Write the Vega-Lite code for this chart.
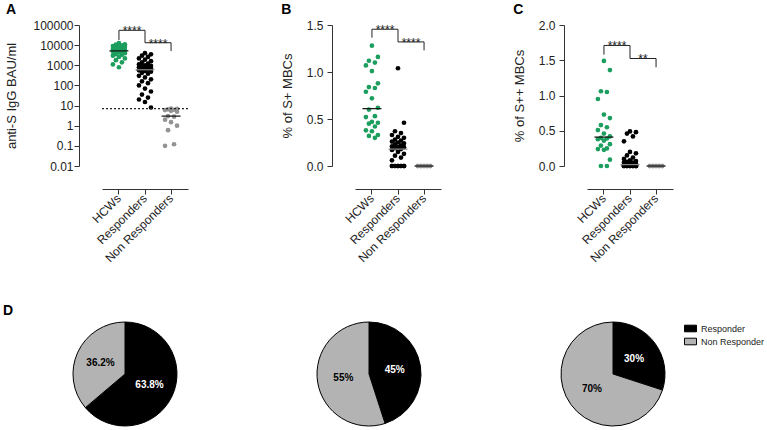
{
  "$schema": "https://vega.github.io/schema/vega-lite/v6.json",
  "padding": {"left": 3, "top": 3, "right": 0, "bottom": 0},
  "config": {
    "font": "Liberation Sans",
    "view": {"stroke": null},
    "axis": {"grid": false, "domainColor": "#333", "tickColor": "#333", "labelColor": "#222", "titleColor": "#222", "labelFontSize": 12, "titleFontSize": 13, "titleFontWeight": "normal", "tickSize": 5, "labelFlush": false, "labelOverlap": false},
    "title": {"anchor": "start", "frame": "bounds", "fontSize": 14, "fontWeight": "bold", "offset": 2, "color": "#000"}
  },
  "datasets": {
    "a": [
      {"g": "HCWs", "v": 12500}, {"g": "HCWs", "v": 11000}, {"g": "HCWs", "v": 10500}, {"g": "HCWs", "v": 9800}, {"g": "HCWs", "v": 9000}, {"g": "HCWs", "v": 8500}, {"g": "HCWs", "v": 8000}, {"g": "HCWs", "v": 7600}, {"g": "HCWs", "v": 7000}, {"g": "HCWs", "v": 6500}, {"g": "HCWs", "v": 6000}, {"g": "HCWs", "v": 5600}, {"g": "HCWs", "v": 5400}, {"g": "HCWs", "v": 5000}, {"g": "HCWs", "v": 4700}, {"g": "HCWs", "v": 4400}, {"g": "HCWs", "v": 4000}, {"g": "HCWs", "v": 3600}, {"g": "HCWs", "v": 3300}, {"g": "HCWs", "v": 3000}, {"g": "HCWs", "v": 2600}, {"g": "HCWs", "v": 2200}, {"g": "HCWs", "v": 1800}, {"g": "HCWs", "v": 1400}, {"g": "HCWs", "v": 1100}, {"g": "HCWs", "v": 800},
      {"g": "Responders", "v": 4000}, {"g": "Responders", "v": 3500}, {"g": "Responders", "v": 3000}, {"g": "Responders", "v": 2600}, {"g": "Responders", "v": 2200}, {"g": "Responders", "v": 1900}, {"g": "Responders", "v": 1600}, {"g": "Responders", "v": 1400}, {"g": "Responders", "v": 1200}, {"g": "Responders", "v": 1100}, {"g": "Responders", "v": 1000}, {"g": "Responders", "v": 950}, {"g": "Responders", "v": 900}, {"g": "Responders", "v": 850}, {"g": "Responders", "v": 800}, {"g": "Responders", "v": 750}, {"g": "Responders", "v": 700}, {"g": "Responders", "v": 650}, {"g": "Responders", "v": 600}, {"g": "Responders", "v": 560}, {"g": "Responders", "v": 520}, {"g": "Responders", "v": 480}, {"g": "Responders", "v": 420}, {"g": "Responders", "v": 380}, {"g": "Responders", "v": 300}, {"g": "Responders", "v": 250}, {"g": "Responders", "v": 200}, {"g": "Responders", "v": 160}, {"g": "Responders", "v": 130}, {"g": "Responders", "v": 100}, {"g": "Responders", "v": 70}, {"g": "Responders", "v": 50}, {"g": "Responders", "v": 35}, {"g": "Responders", "v": 25}, {"g": "Responders", "v": 20}, {"g": "Responders", "v": 15}, {"g": "Responders", "v": 8},
      {"g": "Non Responders", "v": 7}, {"g": "Non Responders", "v": 6.8}, {"g": "Non Responders", "v": 6.5}, {"g": "Non Responders", "v": 6.2}, {"g": "Non Responders", "v": 6}, {"g": "Non Responders", "v": 5.5}, {"g": "Non Responders", "v": 5}, {"g": "Non Responders", "v": 3}, {"g": "Non Responders", "v": 2.8}, {"g": "Non Responders", "v": 2}, {"g": "Non Responders", "v": 1.5}, {"g": "Non Responders", "v": 1}, {"g": "Non Responders", "v": 0.6}, {"g": "Non Responders", "v": 0.12}, {"g": "Non Responders", "v": 0.1}
    ],
    "b": [
      {"g": "HCWs", "v": 1.28}, {"g": "HCWs", "v": 1.16}, {"g": "HCWs", "v": 1.12}, {"g": "HCWs", "v": 1.10}, {"g": "HCWs", "v": 1.07}, {"g": "HCWs", "v": 1.01}, {"g": "HCWs", "v": 0.88}, {"g": "HCWs", "v": 0.84}, {"g": "HCWs", "v": 0.83}, {"g": "HCWs", "v": 0.79}, {"g": "HCWs", "v": 0.72}, {"g": "HCWs", "v": 0.62}, {"g": "HCWs", "v": 0.60}, {"g": "HCWs", "v": 0.53}, {"g": "HCWs", "v": 0.52}, {"g": "HCWs", "v": 0.47}, {"g": "HCWs", "v": 0.46}, {"g": "HCWs", "v": 0.45}, {"g": "HCWs", "v": 0.42}, {"g": "HCWs", "v": 0.38}, {"g": "HCWs", "v": 0.37}, {"g": "HCWs", "v": 0.33}, {"g": "HCWs", "v": 0.32}, {"g": "HCWs", "v": 0.30},
      {"g": "Responders", "v": 1.04}, {"g": "Responders", "v": 0.46}, {"g": "Responders", "v": 0.37}, {"g": "Responders", "v": 0.35}, {"g": "Responders", "v": 0.33}, {"g": "Responders", "v": 0.31}, {"g": "Responders", "v": 0.30}, {"g": "Responders", "v": 0.28}, {"g": "Responders", "v": 0.27}, {"g": "Responders", "v": 0.26}, {"g": "Responders", "v": 0.25}, {"g": "Responders", "v": 0.24}, {"g": "Responders", "v": 0.23}, {"g": "Responders", "v": 0.22}, {"g": "Responders", "v": 0.21}, {"g": "Responders", "v": 0.20}, {"g": "Responders", "v": 0.20}, {"g": "Responders", "v": 0.19}, {"g": "Responders", "v": 0.18}, {"g": "Responders", "v": 0.17}, {"g": "Responders", "v": 0.15}, {"g": "Responders", "v": 0.13}, {"g": "Responders", "v": 0.11}, {"g": "Responders", "v": 0.09}, {"g": "Responders", "v": 0.06},
      {"g": "Responders", "v": 0}, {"g": "Responders", "v": 0}, {"g": "Responders", "v": 0}, {"g": "Responders", "v": 0}, {"g": "Responders", "v": 0}, {"g": "Responders", "v": 0}, {"g": "Responders", "v": 0}, {"g": "Responders", "v": 0}, {"g": "Responders", "v": 0}, {"g": "Responders", "v": 0}, {"g": "Responders", "v": 0}, {"g": "Responders", "v": 0},
      {"g": "Non Responders", "v": 0}, {"g": "Non Responders", "v": 0}, {"g": "Non Responders", "v": 0}, {"g": "Non Responders", "v": 0}, {"g": "Non Responders", "v": 0}, {"g": "Non Responders", "v": 0}, {"g": "Non Responders", "v": 0}, {"g": "Non Responders", "v": 0}, {"g": "Non Responders", "v": 0}, {"g": "Non Responders", "v": 0}, {"g": "Non Responders", "v": 0}, {"g": "Non Responders", "v": 0}, {"g": "Non Responders", "v": 0}, {"g": "Non Responders", "v": 0}, {"g": "Non Responders", "v": 0}
    ],
    "c": [
      {"g": "HCWs", "v": 1.49}, {"g": "HCWs", "v": 1.36}, {"g": "HCWs", "v": 1.06}, {"g": "HCWs", "v": 1.05}, {"g": "HCWs", "v": 0.95}, {"g": "HCWs", "v": 0.73}, {"g": "HCWs", "v": 0.68}, {"g": "HCWs", "v": 0.58}, {"g": "HCWs", "v": 0.55}, {"g": "HCWs", "v": 0.51}, {"g": "HCWs", "v": 0.46}, {"g": "HCWs", "v": 0.42}, {"g": "HCWs", "v": 0.40}, {"g": "HCWs", "v": 0.39}, {"g": "HCWs", "v": 0.38}, {"g": "HCWs", "v": 0.36}, {"g": "HCWs", "v": 0.31}, {"g": "HCWs", "v": 0.29}, {"g": "HCWs", "v": 0.25}, {"g": "HCWs", "v": 0.24}, {"g": "HCWs", "v": 0.23}, {"g": "HCWs", "v": 0.09}, {"g": "HCWs", "v": 0}, {"g": "HCWs", "v": 0},
      {"g": "Responders", "v": 0.49}, {"g": "Responders", "v": 0.48}, {"g": "Responders", "v": 0.46}, {"g": "Responders", "v": 0.42}, {"g": "Responders", "v": 0.35}, {"g": "Responders", "v": 0.20}, {"g": "Responders", "v": 0.18}, {"g": "Responders", "v": 0.15}, {"g": "Responders", "v": 0.12}, {"g": "Responders", "v": 0.10}, {"g": "Responders", "v": 0.08}, {"g": "Responders", "v": 0.07}, {"g": "Responders", "v": 0.06}, {"g": "Responders", "v": 0.05}, {"g": "Responders", "v": 0.05}, {"g": "Responders", "v": 0.04}, {"g": "Responders", "v": 0.03}, {"g": "Responders", "v": 0.03}, {"g": "Responders", "v": 0.02}, {"g": "Responders", "v": 0.02}, {"g": "Responders", "v": 0.01},
      {"g": "Responders", "v": 0}, {"g": "Responders", "v": 0}, {"g": "Responders", "v": 0}, {"g": "Responders", "v": 0}, {"g": "Responders", "v": 0}, {"g": "Responders", "v": 0}, {"g": "Responders", "v": 0}, {"g": "Responders", "v": 0}, {"g": "Responders", "v": 0}, {"g": "Responders", "v": 0}, {"g": "Responders", "v": 0}, {"g": "Responders", "v": 0}, {"g": "Responders", "v": 0}, {"g": "Responders", "v": 0}, {"g": "Responders", "v": 0}, {"g": "Responders", "v": 0},
      {"g": "Non Responders", "v": 0}, {"g": "Non Responders", "v": 0}, {"g": "Non Responders", "v": 0}, {"g": "Non Responders", "v": 0}, {"g": "Non Responders", "v": 0}, {"g": "Non Responders", "v": 0}, {"g": "Non Responders", "v": 0}, {"g": "Non Responders", "v": 0}, {"g": "Non Responders", "v": 0}, {"g": "Non Responders", "v": 0}, {"g": "Non Responders", "v": 0}, {"g": "Non Responders", "v": 0}, {"g": "Non Responders", "v": 0}, {"g": "Non Responders", "v": 0}, {"g": "Non Responders", "v": 0}
    ],
    "a_br": [
      {"br": 1, "k": 1, "g": "HCWs", "v": 18000}, {"br": 1, "k": 2, "g": "HCWs", "v": 54600}, {"br": 1, "k": 3, "g": "Responders", "v": 54600}, {"br": 1, "k": 4, "g": "Responders", "v": 13200},
      {"br": 2, "k": 1, "g": "Responders", "v": 13200}, {"br": 2, "k": 2, "g": "Non Responders", "v": 13200}, {"br": 2, "k": 3, "g": "Non Responders", "v": 5100}
    ],
    "a_st": [{"g": "HCWs", "v": 54600, "t": "****"}, {"g": "Responders", "v": 13200, "t": "****"}],
    "b_br": [
      {"br": 1, "k": 1, "g": "HCWs", "v": 1.365}, {"br": 1, "k": 2, "g": "HCWs", "v": 1.455}, {"br": 1, "k": 3, "g": "Responders", "v": 1.455}, {"br": 1, "k": 4, "g": "Responders", "v": 1.32},
      {"br": 2, "k": 1, "g": "Responders", "v": 1.32}, {"br": 2, "k": 2, "g": "Non Responders", "v": 1.32}, {"br": 2, "k": 3, "g": "Non Responders", "v": 1.23}
    ],
    "b_st": [{"g": "HCWs", "v": 1.455, "t": "****"}, {"g": "Responders", "v": 1.32, "t": "****"}],
    "c_br": [
      {"br": 1, "k": 1, "g": "HCWs", "v": 1.58}, {"br": 1, "k": 2, "g": "HCWs", "v": 1.71}, {"br": 1, "k": 3, "g": "Responders", "v": 1.71}, {"br": 1, "k": 4, "g": "Responders", "v": 1.525},
      {"br": 2, "k": 1, "g": "Responders", "v": 1.525}, {"br": 2, "k": 2, "g": "Non Responders", "v": 1.525}, {"br": 2, "k": 3, "g": "Non Responders", "v": 1.40}
    ],
    "c_st": [{"g": "HCWs", "v": 1.71, "t": "****"}, {"g": "Responders", "v": 1.525, "t": "**"}],
    "pies": [
      {"pie": 1, "status": "Responder", "frac": 0.638}, {"pie": 1, "status": "Non Responder", "frac": 0.362},
      {"pie": 2, "status": "Responder", "frac": 0.45}, {"pie": 2, "status": "Non Responder", "frac": 0.55},
      {"pie": 3, "status": "Responder", "frac": 0.30}, {"pie": 3, "status": "Non Responder", "frac": 0.70}
    ]
  },
  "resolve": {"scale": {"color": "independent"}},
  "spacing": 40,
  "vconcat": [
    {
      "spacing": 92,
      "hconcat": [
        {
          "width": 86, "height": 141,
          "title": {"text": "A"},
          "encoding": {
            "x": {"field": "g", "type": "nominal", "scale": {"domain": ["HCWs", "Responders", "Non Responders"], "paddingInner": 0, "paddingOuter": 0.15}, "axis": {"title": null, "labelAngle": -45, "labelAlign": "right", "labelBaseline": "middle", "offset": 23, "labelPadding": 2}},
            "y": {"field": "v", "type": "quantitative", "title": "anti-S IgG BAU/ml", "scale": {"type": "log", "domain": [0.01, 100000], "nice": false}, "axis": {"offset": 23, "values": [0.01, 0.1, 1, 10, 100, 1000, 10000, 100000], "format": "~g", "labelPadding": 1, "titlePadding": 14}}
          },
          "layer": [
            {
              "data": {"name": "a"},
              "transform": [
                {"window": [{"op": "row_number", "as": "r"}], "groupby": ["g"], "sort": [{"field": "v", "order": "descending"}]},
                {"calculate": "((datum.r * 2) % 5) - 2", "as": "jit"}
              ],
              "mark": {"type": "circle", "size": 22, "opacity": 1},
              "encoding": {
                "xOffset": {"field": "jit", "type": "quantitative", "scale": {"domain": [-2, 2], "range": [7, 19]}},
                "color": {"field": "g", "type": "nominal", "scale": {"domain": ["HCWs", "Responders", "Non Responders"], "range": ["#1b9e5e", "#000000", "#939393"]}, "legend": null}
              }
            },
            {
              "data": {"name": "a"},
              "mark": {"type": "tick", "size": 19, "thickness": 1.2},
              "encoding": {
                "y": {"aggregate": "median", "field": "v", "type": "quantitative", "title": "anti-S IgG BAU/ml"},
                "color": {"condition": {"test": "datum.g === 'Responders'", "value": "#8a8a8a"}, "value": "#111"}
              }
            },
            {
              "data": {"name": "a_br"},
              "mark": {"type": "line", "color": "#222", "strokeWidth": 1},
              "encoding": {"detail": {"field": "br"}, "order": {"field": "k"}}
            },
            {
              "data": {"name": "a_st"},
              "mark": {"type": "text", "fontSize": 12, "baseline": "alphabetic", "dy": 5, "color": "#222"},
              "encoding": {"x": {"field": "g", "type": "nominal", "bandPosition": 1}, "text": {"field": "t"}}
            },
            {
              "data": {"values": [{"v": 7.1}]},
              "mark": {"type": "rule", "strokeDash": [2, 2], "color": "#222", "strokeWidth": 1.2},
              "encoding": {"x": null}
            }
          ]
        },
        {
          "spacing": 72,
          "hconcat": [
            {
              "width": 86, "height": 141,
              "title": {"text": "B"},
              "encoding": {
                "x": {"field": "g", "type": "nominal", "scale": {"domain": ["HCWs", "Responders", "Non Responders"], "paddingInner": 0, "paddingOuter": 0.15}, "axis": {"title": null, "labelAngle": -45, "labelAlign": "right", "labelBaseline": "middle", "offset": 23, "labelPadding": 2}},
                "y": {"field": "v", "type": "quantitative", "title": "% of S+ MBCs", "scale": {"domain": [0, 1.5], "nice": false}, "axis": {"offset": 23, "values": [0, 0.5, 1, 1.5], "format": ".1f", "labelPadding": 4, "titlePadding": 12}}
              },
              "layer": [
                {
                  "data": {"name": "b"},
                  "transform": [
                    {"window": [{"op": "row_number", "as": "r"}], "groupby": ["g"], "sort": [{"field": "v", "order": "descending"}]},
                    {"calculate": "((datum.r * 2) % 5) - 2", "as": "jit"}
                  ],
                  "mark": {"type": "circle", "size": 22, "opacity": 1},
                  "encoding": {
                    "xOffset": {"field": "jit", "type": "quantitative", "scale": {"domain": [-2, 2], "range": [7, 19]}},
                    "color": {"field": "g", "type": "nominal", "scale": {"domain": ["HCWs", "Responders", "Non Responders"], "range": ["#1b9e5e", "#000000", "#939393"]}, "legend": null}
                  }
                },
                {
                  "data": {"name": "b"},
                  "mark": {"type": "tick", "size": 19, "thickness": 1.2},
                  "encoding": {
                    "y": {"aggregate": "median", "field": "v", "type": "quantitative", "title": "% of S+ MBCs"},
                    "color": {"condition": {"test": "datum.g === 'Responders'", "value": "#8a8a8a"}, "value": "#111"}
                  }
                },
                {
                  "data": {"name": "b_br"},
                  "mark": {"type": "line", "color": "#222", "strokeWidth": 1},
                  "encoding": {"detail": {"field": "br"}, "order": {"field": "k"}}
                },
                {
                  "data": {"name": "b_st"},
                  "mark": {"type": "text", "fontSize": 12, "baseline": "alphabetic", "dy": 5, "color": "#222"},
                  "encoding": {"x": {"field": "g", "type": "nominal", "bandPosition": 1}, "text": {"field": "t"}}
                }
              ]
            },
            {
              "width": 86, "height": 141,
              "title": {"text": "C"},
              "encoding": {
                "x": {"field": "g", "type": "nominal", "scale": {"domain": ["HCWs", "Responders", "Non Responders"], "paddingInner": 0, "paddingOuter": 0.15}, "axis": {"title": null, "labelAngle": -45, "labelAlign": "right", "labelBaseline": "middle", "offset": 23, "labelPadding": 2}},
                "y": {"field": "v", "type": "quantitative", "title": "% of S++ MBCs", "scale": {"domain": [0, 2], "nice": false}, "axis": {"offset": 23, "values": [0, 0.5, 1, 1.5, 2], "format": ".1f", "labelPadding": 4, "titlePadding": 12}}
              },
              "layer": [
                {
                  "data": {"name": "c"},
                  "transform": [
                    {"window": [{"op": "row_number", "as": "r"}], "groupby": ["g"], "sort": [{"field": "v", "order": "descending"}]},
                    {"calculate": "((datum.r * 2) % 5) - 2", "as": "jit"}
                  ],
                  "mark": {"type": "circle", "size": 22, "opacity": 1},
                  "encoding": {
                    "xOffset": {"field": "jit", "type": "quantitative", "scale": {"domain": [-2, 2], "range": [7, 19]}},
                    "color": {"field": "g", "type": "nominal", "scale": {"domain": ["HCWs", "Responders", "Non Responders"], "range": ["#1b9e5e", "#000000", "#939393"]}, "legend": null}
                  }
                },
                {
                  "data": {"name": "c"},
                  "mark": {"type": "tick", "size": 19, "thickness": 1.2},
                  "encoding": {
                    "y": {"aggregate": "median", "field": "v", "type": "quantitative", "title": "% of S++ MBCs"},
                    "color": {"condition": {"test": "datum.g === 'Responders'", "value": "#8a8a8a"}, "value": "#111"}
                  }
                },
                {
                  "data": {"name": "c_br"},
                  "mark": {"type": "line", "color": "#222", "strokeWidth": 1},
                  "encoding": {"detail": {"field": "br"}, "order": {"field": "k"}}
                },
                {
                  "data": {"name": "c_st"},
                  "mark": {"type": "text", "fontSize": 12, "baseline": "alphabetic", "dy": 5, "color": "#222"},
                  "encoding": {"x": {"field": "g", "type": "nominal", "bandPosition": 1}, "text": {"field": "t"}}
                }
              ]
            }
          ]
        }
      ]
    },
    {
      "title": {"text": "D", "dx": -68},
      "spacing": 136,
      "resolve": {"scale": {"color": "independent"}, "legend": {"color": "independent"}},
      "hconcat": [
        {
          "width": 46, "height": 104,
          "data": {"name": "pies"},
          "transform": [{"filter": "datum.pie === 1"}],
          "encoding": {
            "theta": {"field": "frac", "type": "quantitative", "stack": true},
            "order": {"field": "status", "sort": "descending"}
          },
          "layer": [
            {
              "mark": {"type": "arc", "outerRadius": 52, "stroke": "#000", "strokeWidth": 1},
              "encoding": {"color": {"field": "status", "type": "nominal", "scale": {"domain": ["Responder", "Non Responder"], "range": ["#000000", "#b3b3b3"]}, "legend": null}}
            },
            {
              "mark": {"type": "text", "radius": 27, "fontSize": 10, "fontWeight": "bold"},
              "encoding": {"text": {"field": "frac", "format": "~%"}, "color": {"condition": {"test": "datum.status === 'Responder'", "value": "#fff"}, "value": "#000"}}
            }
          ]
        },
        {
          "width": 46, "height": 104,
          "data": {"name": "pies"},
          "transform": [{"filter": "datum.pie === 2"}],
          "encoding": {
            "theta": {"field": "frac", "type": "quantitative", "stack": true},
            "order": {"field": "status", "sort": "descending"}
          },
          "layer": [
            {
              "mark": {"type": "arc", "outerRadius": 52, "stroke": "#000", "strokeWidth": 1},
              "encoding": {"color": {"field": "status", "type": "nominal", "scale": {"domain": ["Responder", "Non Responder"], "range": ["#000000", "#b3b3b3"]}, "legend": null}}
            },
            {
              "mark": {"type": "text", "radius": 26, "fontSize": 10, "fontWeight": "bold"},
              "encoding": {"text": {"field": "frac", "format": "~%"}, "color": {"condition": {"test": "datum.status === 'Responder'", "value": "#fff"}, "value": "#000"}}
            }
          ]
        },
        {
          "width": 46, "height": 104,
          "data": {"name": "pies"},
          "transform": [{"filter": "datum.pie === 3"}],
          "encoding": {
            "theta": {"field": "frac", "type": "quantitative", "stack": true},
            "order": {"field": "status", "sort": "descending"}
          },
          "layer": [
            {
              "mark": {"type": "arc", "outerRadius": 52, "stroke": "#000", "strokeWidth": 1},
              "encoding": {"color": {"field": "status", "type": "nominal", "scale": {"domain": ["Responder", "Non Responder"], "range": ["#000000", "#b3b3b3"]}, "legend": {"orient": "none", "legendX": 94, "legendY": 0, "title": null, "symbolType": "M-1,-0.55H1V0.55H-1Z", "symbolSize": 144, "symbolStrokeColor": "#000", "symbolStrokeWidth": 1, "labelFontSize": 9, "labelOffset": 4, "rowPadding": 1, "labelColor": "#222"}}}
            },
            {
              "mark": {"type": "text", "radius": 26, "fontSize": 10, "fontWeight": "bold"},
              "encoding": {"text": {"field": "frac", "format": "~%"}, "color": {"condition": {"test": "datum.status === 'Responder'", "value": "#fff"}, "value": "#000"}}
            }
          ]
        }
      ]
    }
  ]
}
